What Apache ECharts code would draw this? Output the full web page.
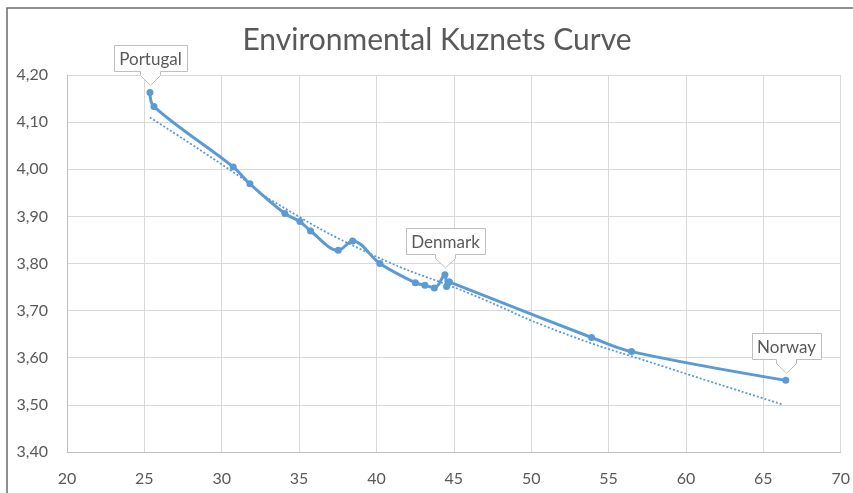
<!DOCTYPE html>
<html>
<head>
<meta charset="utf-8">
<style>html,body{margin:0;padding:0;background:#fff;}#c{width:853px;height:493px;}</style>
<script src="https://cdn.jsdelivr.net/npm/echarts@6/dist/echarts.min.js"></script>
</head>
<body>
<div id="c"></div>
<script>
// Data
const xValues = [25.36, 25.62, 30.74, 31.82, 34.08, 35.05, 35.74, 37.53, 38.46, 40.22, 42.51, 43.13, 43.74, 44.42, 44.53, 44.70, 53.90, 56.48, 66.45];
const yValues = [4.163, 4.133, 4.005, 3.969, 3.906, 3.889, 3.869, 3.828, 3.848, 3.800, 3.759, 3.754, 3.748, 3.776, 3.751, 3.761, 3.643, 3.613, 3.552];
const trendX = [25.36, 31.5, 33.11, 39.57, 46.03, 51.85, 58.31, 66.23];
const trendY = [4.110, 3.977, 3.936, 3.821, 3.736, 3.655, 3.584, 3.501];
const calloutNames = ['Portugal', 'Denmark', 'Norway'];
const calloutIndex = [0, 13, 18];
const xTicks = [20, 25, 30, 35, 40, 45, 50, 55, 60, 65, 70];
const yTicks = ['3,40', '3,50', '3,60', '3,70', '3,80', '3,90', '4,00', '4,10', '4,20'];

const blue = '#5b9bd5';
const textGray = '#595959';
const mainData = xValues.map((x, i) => [x, yValues[i]]);
const splitAt = 15; // the line is smoothed in two pieces joined at this point
const mainDataA = mainData.slice(0, splitAt + 1);
const mainDataB = mainData.slice(splitAt);
const trendData = trendX.map((x, i) => [x, trendY[i]]);
const calloutData = calloutIndex.map((idx, i) => [xValues[idx], yValues[idx], i]);

const measureCtx = document.createElement('canvas').getContext('2d');
const calloutFont = '17px Lato';
function textWidth(t, f) { measureCtx.font = f; return measureCtx.measureText(t).width; }

const chart = echarts.init(document.getElementById('c'), null, {renderer: 'canvas'});
chart.setOption({
  animation: false,
  title: {
    text: 'Environmental Kuznets Curve',
    left: 432, top: 20, textAlign: 'center',
    textStyle: {fontFamily: 'Lato', fontSize: 30, fontWeight: 'normal', color: textGray}
  },
  graphic: [{
    type: 'polyline',
    shape: {points: [[7, 493], [7, 8], [853, 8]]},
    style: {stroke: '#6b6b6b', lineWidth: 1.5, fill: null},
    silent: true
  }],
  grid: {left: 67, right: 12, top: 75, bottom: 41, containLabel: false},
  xAxis: {
    type: 'value', min: 20, max: 70, interval: 5,
    axisLine: {show: true, onZero: false, lineStyle: {color: '#bfbfbf', width: 1}},
    axisTick: {show: false},
    splitLine: {show: true, lineStyle: {color: '#d9d9d9', width: 1}},
    axisLabel: {margin: 19, color: textGray, fontFamily: 'Lato', fontSize: 16,
      formatter: v => String(xTicks[Math.round((v - 20) / 5)])}
  },
  yAxis: {
    type: 'value', min: 3.4, max: 4.2, interval: 0.1,
    axisLine: {show: true, onZero: false, lineStyle: {color: '#bfbfbf', width: 1}},
    axisTick: {show: false},
    splitLine: {show: true, lineStyle: {color: '#d9d9d9', width: 1}},
    axisLabel: {margin: 19, color: textGray, fontFamily: 'Lato', fontSize: 16,
      formatter: v => yTicks[Math.round((v - 3.4) / 0.1)]}
  },
  series: [
    {
      type: 'line', data: trendData, smooth: true, symbol: 'none', z: 2,
      lineStyle: {color: blue, width: 1.8, type: [2, 2]}
    },
    {
      type: 'line', data: mainDataA, smooth: 0.35, symbol: 'circle', symbolSize: 7, z: 3,
      lineStyle: {color: blue, width: 3},
      itemStyle: {color: blue}
    },
    {
      type: 'line', data: mainDataB, smooth: 0.35, symbol: 'circle', symbolSize: 7, z: 3,
      lineStyle: {color: blue, width: 3},
      itemStyle: {color: blue}
    },
    {
      type: 'custom', data: calloutData, z: 10,
      renderItem: function (params, api) {
        const pt = api.coord([api.value(0), api.value(1)]);
        const name = calloutNames[api.value(2)];
        const w = textWidth(name, calloutFont) + 11;
        const h = 26;
        const cx = Math.round(pt[0]) + 0.5;
        const bottom = Math.round(pt[1] - 21) + 0.5;
        const top = bottom - h;
        const left = Math.round(cx - w / 2) + 0.5, right = Math.round(cx + w / 2) + 0.5;
        const tip = pt[1] - 7;
        const points = [[left, top], [right, top], [right, bottom], [cx + 10, bottom], [cx + 10, bottom + 4],
          [cx, tip], [cx - 10, bottom + 4], [cx - 10, bottom], [left, bottom]];
        return {
          type: 'group',
          children: [
            {type: 'polygon', shape: {points: points}, style: {fill: '#fff', stroke: '#bfbfbf', lineWidth: 1}},
            {type: 'text', style: {text: name, x: cx, y: top + h / 2 + 1, align: 'center', verticalAlign: 'middle',
              font: calloutFont, fill: textGray}}
          ]
        };
      }
    }
  ]
});
</script>
</body>
</html>
